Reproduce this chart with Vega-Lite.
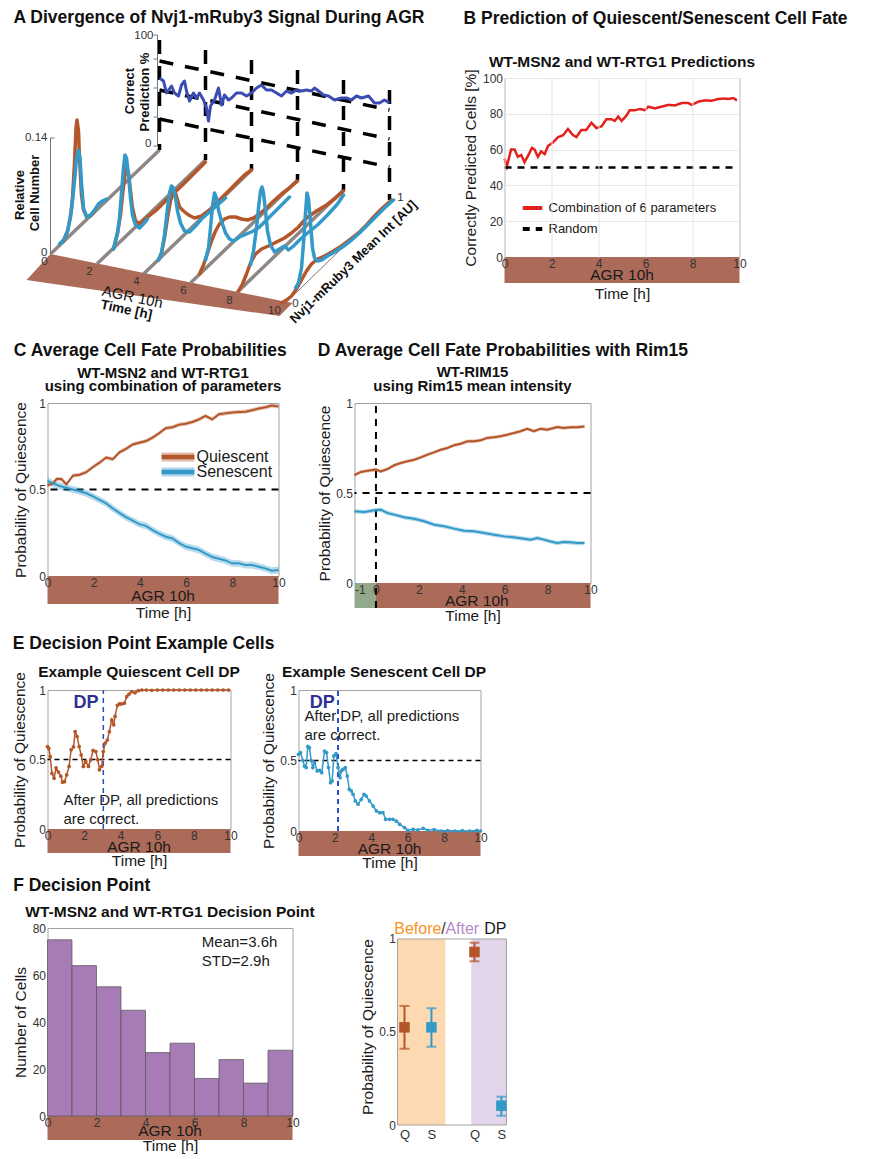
{
"$schema": "https://vega.github.io/schema/vega-lite/v6.json",
"padding": {"left": 11.5, "top": 8, "right": 2, "bottom": 2},
"background": "white",
"spacing": 0,
"resolve": {"scale": {"color": "independent", "fill": "independent", "strokeDash": "independent"}},
"config": {
 "font": "Liberation Sans",
 "view": {"stroke": "#a3a3a3", "strokeWidth": 1},
 "axis": {"domain": false, "ticks": false, "grid": false, "labelFontSize": 12, "labelColor": "#333333", "titleFontSize": 15.5, "titleFontWeight": "normal", "titleColor": "#1a1a1a", "labelFont": "Liberation Sans", "titleFont": "Liberation Sans", "labelOverlap": false},
 "title": {"fontSize": 17.5, "fontWeight": "bold", "anchor": "start", "color": "#111111", "font": "Liberation Sans"},
 "legend": {"labelFont": "Liberation Sans"},
 "text": {"font": "Liberation Sans"}
},
"datasets": {
 "agr": [{"start": 0, "end": 10, "label": "AGR 10h"}],
 "preagr": [{"start": -1, "end": 0}],
 "a_floor": [{"u":25,"top":277,"bot":277},{"u":49,"top":251,"bot":280.4},{"u":278,"top":297.4,"bot":313},{"u":291,"top":300,"bot":300}],
 "a_base": [
  {"c":"g0","u":49,"v":251},{"c":"g0","u":158,"v":147},
  {"c":"g1","u":95.6,"v":260.8},{"c":"g1","u":204,"v":157},
  {"c":"g2","u":142,"v":271},{"c":"g2","u":250,"v":167},
  {"c":"g3","u":189,"v":280},{"c":"g3","u":296,"v":177},
  {"c":"g4","u":235,"v":290},{"c":"g4","u":342,"v":187}],
 "a_axis": [
  {"c":"ax1","u":49,"v":251},{"c":"ax1","u":49,"v":135},
  {"c":"tk1","u":49,"v":135},{"c":"tk1","u":53,"v":135},
  {"c":"ax2","u":156,"v":143},{"c":"ax2","u":156,"v":32},
  {"c":"t100","u":152,"v":32},{"c":"t100","u":156,"v":32},
  {"c":"t75","u":152,"v":56},{"c":"t75","u":156,"v":56},
  {"c":"t50","u":152,"v":85},{"c":"t50","u":156,"v":85},
  {"c":"t25","u":152,"v":114},{"c":"t25","u":156,"v":114},
  {"c":"t0","u":152,"v":143},{"c":"t0","u":156,"v":143},
  {"c":"ax3","u":283,"v":301},{"c":"ax3","u":390,"v":197}],
 "a_grid": [
  {"c":"V0","u":158,"v":37},{"c":"V0","u":158,"v":147},
  {"c":"V1","u":204,"v":47},{"c":"V1","u":204,"v":157},
  {"c":"V2","u":250,"v":57},{"c":"V2","u":250,"v":167},
  {"c":"V3","u":296,"v":67},{"c":"V3","u":296,"v":177},
  {"c":"V4","u":342,"v":77},{"c":"V4","u":342,"v":187},
  {"c":"V5","u":388,"v":87},{"c":"V5","u":388,"v":197},
  {"c":"H75","u":158,"v":58},{"c":"H75","u":388,"v":107},
  {"c":"H50","u":158,"v":87},{"c":"H50","u":388,"v":136},
  {"c":"H25","u":158,"v":116},{"c":"H25","u":388,"v":164}],
 "a_curves": [
  {"c":"o0","s":"Q","u":62,"v":238},{"c":"o0","s":"Q","u":66,"v":228},{"c":"o0","s":"Q","u":69,"v":214},{"c":"o0","s":"Q","u":71,"v":195},{"c":"o0","s":"Q","u":73,"v":160},{"c":"o0","s":"Q","u":74.5,"v":125},{"c":"o0","s":"Q","u":75.5,"v":117},{"c":"o0","s":"Q","u":77,"v":128},{"c":"o0","s":"Q","u":78,"v":155},{"c":"o0","s":"Q","u":80,"v":192},{"c":"o0","s":"Q","u":82,"v":207},{"c":"o0","s":"Q","u":85,"v":213},{"c":"o0","s":"Q","u":89,"v":213},{"c":"o0","s":"Q","u":93,"v":208},
  {"c":"b0","s":"S","u":58,"v":241},{"c":"b0","s":"S","u":62,"v":237},{"c":"b0","s":"S","u":66,"v":229},{"c":"b0","s":"S","u":70,"v":207},{"c":"b0","s":"S","u":73,"v":178},{"c":"b0","s":"S","u":75,"v":155},{"c":"b0","s":"S","u":77,"v":147},{"c":"b0","s":"S","u":78.5,"v":155},{"c":"b0","s":"S","u":80,"v":180},{"c":"b0","s":"S","u":82,"v":205},{"c":"b0","s":"S","u":85,"v":214},{"c":"b0","s":"S","u":89,"v":212},{"c":"b0","s":"S","u":93,"v":207},{"c":"b0","s":"S","u":97,"v":201},{"c":"b0","s":"S","u":101,"v":198},{"c":"b0","s":"S","u":105,"v":196},
  {"c":"o1","s":"Q","u":112,"v":246},{"c":"o1","s":"Q","u":116,"v":230},{"c":"o1","s":"Q","u":119,"v":212},{"c":"o1","s":"Q","u":121,"v":192},{"c":"o1","s":"Q","u":123,"v":175},{"c":"o1","s":"Q","u":125,"v":165},{"c":"o1","s":"Q","u":127,"v":170},{"c":"o1","s":"Q","u":129,"v":188},{"c":"o1","s":"Q","u":131,"v":205},{"c":"o1","s":"Q","u":134,"v":218},{"c":"o1","s":"Q","u":138,"v":221},{"c":"o1","s":"Q","u":145,"v":215},{"c":"o1","s":"Q","u":155,"v":207},{"c":"o1","s":"Q","u":165,"v":197},{"c":"o1","s":"Q","u":180,"v":183},{"c":"o1","s":"Q","u":195,"v":168},{"c":"o1","s":"Q","u":204,"v":159},
  {"c":"b1","s":"S","u":112,"v":246},{"c":"b1","s":"S","u":116,"v":230},{"c":"b1","s":"S","u":118,"v":215},{"c":"b1","s":"S","u":120,"v":190},{"c":"b1","s":"S","u":122,"v":165},{"c":"b1","s":"S","u":123.5,"v":152},{"c":"b1","s":"S","u":125,"v":155},{"c":"b1","s":"S","u":127,"v":172},{"c":"b1","s":"S","u":129,"v":195},{"c":"b1","s":"S","u":131,"v":212},{"c":"b1","s":"S","u":134,"v":222},{"c":"b1","s":"S","u":138,"v":225},{"c":"b1","s":"S","u":142,"v":221},{"c":"b1","s":"S","u":146,"v":216},
  {"c":"o2","s":"Q","u":157,"v":257},{"c":"o2","s":"Q","u":160,"v":250},{"c":"o2","s":"Q","u":163,"v":235},{"c":"o2","s":"Q","u":166,"v":215},{"c":"o2","s":"Q","u":169,"v":198},{"c":"o2","s":"Q","u":172,"v":189},{"c":"o2","s":"Q","u":174,"v":190},{"c":"o2","s":"Q","u":176,"v":197},{"c":"o2","s":"Q","u":178,"v":204},{"c":"o2","s":"Q","u":182,"v":208},{"c":"o2","s":"Q","u":187,"v":212},{"c":"o2","s":"Q","u":193,"v":215},{"c":"o2","s":"Q","u":200,"v":213},{"c":"o2","s":"Q","u":208,"v":207},{"c":"o2","s":"Q","u":216,"v":199},{"c":"o2","s":"Q","u":225,"v":190},{"c":"o2","s":"Q","u":235,"v":180},{"c":"o2","s":"Q","u":243,"v":172},{"c":"o2","s":"Q","u":250,"v":167},
  {"c":"b2","s":"S","u":157,"v":257},{"c":"b2","s":"S","u":160,"v":250},{"c":"b2","s":"S","u":163,"v":232},{"c":"b2","s":"S","u":166,"v":205},{"c":"b2","s":"S","u":168,"v":190},{"c":"b2","s":"S","u":170,"v":183},{"c":"b2","s":"S","u":172,"v":185},{"c":"b2","s":"S","u":174,"v":195},{"c":"b2","s":"S","u":176,"v":208},{"c":"b2","s":"S","u":179,"v":220},{"c":"b2","s":"S","u":183,"v":228},{"c":"b2","s":"S","u":188,"v":229},{"c":"b2","s":"S","u":193,"v":224},{"c":"b2","s":"S","u":200,"v":216},{"c":"b2","s":"S","u":208,"v":209},{"c":"b2","s":"S","u":216,"v":202},{"c":"b2","s":"S","u":224,"v":195},
  {"c":"o3","s":"Q","u":198,"v":271},{"c":"o3","s":"Q","u":202,"v":262},{"c":"o3","s":"Q","u":206,"v":250},{"c":"o3","s":"Q","u":210,"v":238},{"c":"o3","s":"Q","u":214,"v":228},{"c":"o3","s":"Q","u":218,"v":221},{"c":"o3","s":"Q","u":223,"v":216},{"c":"o3","s":"Q","u":228,"v":214},{"c":"o3","s":"Q","u":234,"v":214},{"c":"o3","s":"Q","u":240,"v":216},{"c":"o3","s":"Q","u":246,"v":217},{"c":"o3","s":"Q","u":252,"v":215},{"c":"o3","s":"Q","u":258,"v":211},{"c":"o3","s":"Q","u":265,"v":205},{"c":"o3","s":"Q","u":272,"v":198},{"c":"o3","s":"Q","u":280,"v":191},{"c":"o3","s":"Q","u":288,"v":185},{"c":"o3","s":"Q","u":296,"v":178},
  {"c":"b3","s":"S","u":204,"v":257},{"c":"b3","s":"S","u":207,"v":245},{"c":"b3","s":"S","u":209,"v":225},{"c":"b3","s":"S","u":211,"v":203},{"c":"b3","s":"S","u":213,"v":190},{"c":"b3","s":"S","u":215,"v":195},{"c":"b3","s":"S","u":217,"v":207},{"c":"b3","s":"S","u":220,"v":218},{"c":"b3","s":"S","u":224,"v":230},{"c":"b3","s":"S","u":228,"v":236},{"c":"b3","s":"S","u":232,"v":238},{"c":"b3","s":"S","u":238,"v":234},{"c":"b3","s":"S","u":245,"v":231},{"c":"b3","s":"S","u":252,"v":228},{"c":"b3","s":"S","u":258,"v":224},{"c":"b3","s":"S","u":265,"v":217},{"c":"b3","s":"S","u":272,"v":210},{"c":"b3","s":"S","u":280,"v":202},{"c":"b3","s":"S","u":288,"v":194},
  {"c":"o4","s":"Q","u":237,"v":288},{"c":"o4","s":"Q","u":241,"v":281},{"c":"o4","s":"Q","u":245,"v":271},{"c":"o4","s":"Q","u":249,"v":260},{"c":"o4","s":"Q","u":254,"v":251},{"c":"o4","s":"Q","u":260,"v":246},{"c":"o4","s":"Q","u":267,"v":243},{"c":"o4","s":"Q","u":275,"v":239},{"c":"o4","s":"Q","u":283,"v":235},{"c":"o4","s":"Q","u":290,"v":230},{"c":"o4","s":"Q","u":297,"v":224},{"c":"o4","s":"Q","u":305,"v":215},{"c":"o4","s":"Q","u":315,"v":208},{"c":"o4","s":"Q","u":325,"v":202},{"c":"o4","s":"Q","u":334,"v":195},{"c":"o4","s":"Q","u":342,"v":188},
  {"c":"b4","s":"S","u":249,"v":262},{"c":"b4","s":"S","u":252,"v":248},{"c":"b4","s":"S","u":255,"v":225},{"c":"b4","s":"S","u":257,"v":205},{"c":"b4","s":"S","u":259,"v":188},{"c":"b4","s":"S","u":260.5,"v":184},{"c":"b4","s":"S","u":262,"v":190},{"c":"b4","s":"S","u":264,"v":208},{"c":"b4","s":"S","u":266,"v":228},{"c":"b4","s":"S","u":269,"v":242},{"c":"b4","s":"S","u":273,"v":249},{"c":"b4","s":"S","u":278,"v":246},{"c":"b4","s":"S","u":283,"v":243},{"c":"b4","s":"S","u":287,"v":247},{"c":"b4","s":"S","u":292,"v":243},{"c":"b4","s":"S","u":298,"v":237},{"c":"b4","s":"S","u":306,"v":230},{"c":"b4","s":"S","u":316,"v":222},{"c":"b4","s":"S","u":326,"v":212},{"c":"b4","s":"S","u":336,"v":201},{"c":"b4","s":"S","u":342,"v":192},
  {"c":"o5","s":"Q","u":280,"v":300},{"c":"o5","s":"Q","u":285,"v":297},{"c":"o5","s":"Q","u":290,"v":293},{"c":"o5","s":"Q","u":295,"v":286},{"c":"o5","s":"Q","u":300,"v":277},{"c":"o5","s":"Q","u":305,"v":268},{"c":"o5","s":"Q","u":310,"v":261},{"c":"o5","s":"Q","u":316,"v":256},{"c":"o5","s":"Q","u":323,"v":253},{"c":"o5","s":"Q","u":332,"v":248},{"c":"o5","s":"Q","u":340,"v":243},{"c":"o5","s":"Q","u":348,"v":237},{"c":"o5","s":"Q","u":357,"v":230},{"c":"o5","s":"Q","u":365,"v":222},{"c":"o5","s":"Q","u":373,"v":213},{"c":"o5","s":"Q","u":381,"v":205},{"c":"o5","s":"Q","u":390,"v":197},
  {"c":"b5","s":"S","u":294,"v":285},{"c":"b5","s":"S","u":297,"v":280},{"c":"b5","s":"S","u":300,"v":265},{"c":"b5","s":"S","u":302,"v":240},{"c":"b5","s":"S","u":304,"v":210},{"c":"b5","s":"S","u":305.5,"v":190},{"c":"b5","s":"S","u":307,"v":196},{"c":"b5","s":"S","u":309,"v":220},{"c":"b5","s":"S","u":311,"v":245},{"c":"b5","s":"S","u":313,"v":255},{"c":"b5","s":"S","u":316,"v":258},{"c":"b5","s":"S","u":320,"v":257},{"c":"b5","s":"S","u":326,"v":253},{"c":"b5","s":"S","u":333,"v":249},{"c":"b5","s":"S","u":341,"v":244},{"c":"b5","s":"S","u":350,"v":237},{"c":"b5","s":"S","u":358,"v":230},{"c":"b5","s":"S","u":366,"v":222},{"c":"b5","s":"S","u":374,"v":214},{"c":"b5","s":"S","u":383,"v":205},{"c":"b5","s":"S","u":392,"v":197}],
 "a_pred": [{"u":158,"v":75},{"u":162,"v":78},{"u":165,"v":90},{"u":170,"v":83},{"u":173,"v":90},{"u":177,"v":93},{"u":180,"v":82},{"u":183,"v":78},{"u":185,"v":88},{"u":188,"v":98},{"u":192,"v":90},{"u":195,"v":95},{"u":198,"v":90},{"u":202,"v":97},{"u":205,"v":105},{"u":207,"v":118},{"u":209,"v":103},{"u":213,"v":97},{"u":217,"v":85},{"u":220,"v":102},{"u":223,"v":92},{"u":227,"v":97},{"u":230,"v":95},{"u":235,"v":90},{"u":240,"v":90},{"u":245,"v":93},{"u":250,"v":90},{"u":255,"v":85},{"u":260,"v":82},{"u":265,"v":87},{"u":270,"v":87},{"u":275,"v":90},{"u":280,"v":93},{"u":285,"v":88},{"u":290,"v":90},{"u":295,"v":87},{"u":300,"v":88},{"u":305,"v":87},{"u":310,"v":88},{"u":313,"v":85},{"u":317,"v":88},{"u":322,"v":92},{"u":327,"v":93},{"u":333,"v":97},{"u":340,"v":95},{"u":345,"v":95},{"u":350,"v":97},{"u":355,"v":93},{"u":360,"v":95},{"u":367,"v":93},{"u":373,"v":100},{"u":378,"v":100},{"u":383,"v":97},{"u":388,"v":100}],
 "a_ticks": [{"lab":"0","u":43,"v":259},{"lab":"2","u":88,"v":269},{"lab":"4","u":135,"v":279},{"lab":"6","u":182,"v":288},{"lab":"8","u":228,"v":298},{"lab":"10","u":273,"v":308},{"lab":"0","u":294,"v":301},{"lab":"1","u":399,"v":195}],
 "a_ticks_r": [{"lab":"0.14","u":46,"v":135},{"lab":"0","u":46,"v":250},{"lab":"100","u":152,"v":33},{"lab":"0","u":150,"v":141}],
 "a_vlabels": [{"lab":"Relative","u":18,"v":192},{"lab":"Cell Number","u":33,"v":190},{"lab":"Correct","u":128,"v":88},{"lab":"Prediction %","u":143,"v":89}],
 "b_lines": [
  {"series":"Combination of 6 parameters","t":0,"pct":55},{"series":"Combination of 6 parameters","t":0.1,"pct":50.6},{"series":"Combination of 6 parameters","t":0.28,"pct":60},{"series":"Combination of 6 parameters","t":0.43,"pct":60},{"series":"Combination of 6 parameters","t":0.57,"pct":56},{"series":"Combination of 6 parameters","t":0.71,"pct":57},{"series":"Combination of 6 parameters","t":0.85,"pct":53},{"series":"Combination of 6 parameters","t":1.02,"pct":57},{"series":"Combination of 6 parameters","t":1.17,"pct":61},{"series":"Combination of 6 parameters","t":1.28,"pct":60},{"series":"Combination of 6 parameters","t":1.42,"pct":56},{"series":"Combination of 6 parameters","t":1.56,"pct":59},{"series":"Combination of 6 parameters","t":1.71,"pct":57.5},{"series":"Combination of 6 parameters","t":1.85,"pct":62},{"series":"Combination of 6 parameters","t":2.06,"pct":64},{"series":"Combination of 6 parameters","t":2.28,"pct":67},{"series":"Combination of 6 parameters","t":2.49,"pct":68},{"series":"Combination of 6 parameters","t":2.7,"pct":71.5},{"series":"Combination of 6 parameters","t":2.92,"pct":68},{"series":"Combination of 6 parameters","t":3.06,"pct":67},{"series":"Combination of 6 parameters","t":3.27,"pct":71},{"series":"Combination of 6 parameters","t":3.48,"pct":71},{"series":"Combination of 6 parameters","t":3.7,"pct":75},{"series":"Combination of 6 parameters","t":3.91,"pct":72},{"series":"Combination of 6 parameters","t":4.13,"pct":73},{"series":"Combination of 6 parameters","t":4.34,"pct":77},{"series":"Combination of 6 parameters","t":4.55,"pct":77},{"series":"Combination of 6 parameters","t":4.69,"pct":76},{"series":"Combination of 6 parameters","t":4.84,"pct":78.5},{"series":"Combination of 6 parameters","t":4.98,"pct":76},{"series":"Combination of 6 parameters","t":5.19,"pct":79},{"series":"Combination of 6 parameters","t":5.33,"pct":82},{"series":"Combination of 6 parameters","t":5.55,"pct":82},{"series":"Combination of 6 parameters","t":5.76,"pct":82.7},{"series":"Combination of 6 parameters","t":5.97,"pct":82},{"series":"Combination of 6 parameters","t":6.12,"pct":84},{"series":"Combination of 6 parameters","t":6.4,"pct":83},{"series":"Combination of 6 parameters","t":6.69,"pct":84},{"series":"Combination of 6 parameters","t":6.97,"pct":85},{"series":"Combination of 6 parameters","t":7.25,"pct":84.7},{"series":"Combination of 6 parameters","t":7.54,"pct":86},{"series":"Combination of 6 parameters","t":7.82,"pct":86},{"series":"Combination of 6 parameters","t":7.97,"pct":85},{"series":"Combination of 6 parameters","t":8.25,"pct":86.8},{"series":"Combination of 6 parameters","t":8.53,"pct":87.5},{"series":"Combination of 6 parameters","t":8.82,"pct":87.3},{"series":"Combination of 6 parameters","t":9.1,"pct":88.3},{"series":"Combination of 6 parameters","t":9.32,"pct":88.5},{"series":"Combination of 6 parameters","t":9.53,"pct":88.3},{"series":"Combination of 6 parameters","t":9.74,"pct":88.8},{"series":"Combination of 6 parameters","t":9.89,"pct":87.5},
  {"series":"Random","t":0,"pct":50},{"series":"Random","t":9.75,"pct":50}],
 "c_lines": [
  {"fate":"Quiescent","t":0,"p":0.525,"lo":0.513,"hi":0.537},{"fate":"Quiescent","t":0.24,"p":0.535,"lo":0.523,"hi":0.547},{"fate":"Quiescent","t":0.39,"p":0.56,"lo":0.548,"hi":0.572},{"fate":"Quiescent","t":0.6,"p":0.56,"lo":0.548,"hi":0.572},{"fate":"Quiescent","t":0.82,"p":0.53,"lo":0.518,"hi":0.542},{"fate":"Quiescent","t":1.1,"p":0.58,"lo":0.568,"hi":0.592},{"fate":"Quiescent","t":1.39,"p":0.585,"lo":0.573,"hi":0.597},{"fate":"Quiescent","t":1.68,"p":0.6,"lo":0.588,"hi":0.612},{"fate":"Quiescent","t":1.97,"p":0.63,"lo":0.618,"hi":0.642},{"fate":"Quiescent","t":2.25,"p":0.655,"lo":0.643,"hi":0.667},{"fate":"Quiescent","t":2.54,"p":0.685,"lo":0.673,"hi":0.697},{"fate":"Quiescent","t":2.83,"p":0.675,"lo":0.663,"hi":0.687},{"fate":"Quiescent","t":3.11,"p":0.715,"lo":0.703,"hi":0.727},{"fate":"Quiescent","t":3.4,"p":0.735,"lo":0.723,"hi":0.747},{"fate":"Quiescent","t":3.69,"p":0.76,"lo":0.748,"hi":0.772},{"fate":"Quiescent","t":3.97,"p":0.77,"lo":0.758,"hi":0.782},{"fate":"Quiescent","t":4.26,"p":0.78,"lo":0.768,"hi":0.792},{"fate":"Quiescent","t":4.55,"p":0.8,"lo":0.788,"hi":0.812},{"fate":"Quiescent","t":4.83,"p":0.825,"lo":0.813,"hi":0.837},{"fate":"Quiescent","t":5.12,"p":0.855,"lo":0.843,"hi":0.867},{"fate":"Quiescent","t":5.41,"p":0.86,"lo":0.848,"hi":0.872},{"fate":"Quiescent","t":5.7,"p":0.875,"lo":0.863,"hi":0.887},{"fate":"Quiescent","t":5.98,"p":0.88,"lo":0.868,"hi":0.892},{"fate":"Quiescent","t":6.27,"p":0.89,"lo":0.878,"hi":0.902},{"fate":"Quiescent","t":6.56,"p":0.905,"lo":0.893,"hi":0.917},{"fate":"Quiescent","t":6.84,"p":0.925,"lo":0.913,"hi":0.937},{"fate":"Quiescent","t":7.13,"p":0.905,"lo":0.893,"hi":0.917},{"fate":"Quiescent","t":7.42,"p":0.935,"lo":0.923,"hi":0.947},{"fate":"Quiescent","t":7.7,"p":0.94,"lo":0.928,"hi":0.952},{"fate":"Quiescent","t":7.99,"p":0.945,"lo":0.933,"hi":0.957},{"fate":"Quiescent","t":8.28,"p":0.948,"lo":0.936,"hi":0.96},{"fate":"Quiescent","t":8.57,"p":0.95,"lo":0.938,"hi":0.962},{"fate":"Quiescent","t":8.85,"p":0.958,"lo":0.946,"hi":0.97},{"fate":"Quiescent","t":9.14,"p":0.968,"lo":0.956,"hi":0.98},{"fate":"Quiescent","t":9.43,"p":0.975,"lo":0.963,"hi":0.987},{"fate":"Quiescent","t":9.71,"p":0.985,"lo":0.973,"hi":0.997},{"fate":"Quiescent","t":10,"p":0.98,"lo":0.968,"hi":0.992},
  {"fate":"Senescent","t":0,"p":0.55,"lo":0.53,"hi":0.57},{"fate":"Senescent","t":0.24,"p":0.535,"lo":0.515,"hi":0.555},{"fate":"Senescent","t":0.53,"p":0.52,"lo":0.5,"hi":0.54},{"fate":"Senescent","t":0.82,"p":0.51,"lo":0.49,"hi":0.53},{"fate":"Senescent","t":1.1,"p":0.5,"lo":0.48,"hi":0.52},{"fate":"Senescent","t":1.39,"p":0.49,"lo":0.47,"hi":0.51},{"fate":"Senescent","t":1.68,"p":0.478,"lo":0.458,"hi":0.498},{"fate":"Senescent","t":1.97,"p":0.46,"lo":0.44,"hi":0.48},{"fate":"Senescent","t":2.25,"p":0.44,"lo":0.42,"hi":0.46},{"fate":"Senescent","t":2.54,"p":0.42,"lo":0.4,"hi":0.44},{"fate":"Senescent","t":2.83,"p":0.39,"lo":0.37,"hi":0.41},{"fate":"Senescent","t":3.11,"p":0.365,"lo":0.345,"hi":0.385},{"fate":"Senescent","t":3.4,"p":0.34,"lo":0.32,"hi":0.36},{"fate":"Senescent","t":3.69,"p":0.32,"lo":0.3,"hi":0.34},{"fate":"Senescent","t":3.97,"p":0.3,"lo":0.28,"hi":0.32},{"fate":"Senescent","t":4.26,"p":0.29,"lo":0.27,"hi":0.31},{"fate":"Senescent","t":4.55,"p":0.265,"lo":0.245,"hi":0.285},{"fate":"Senescent","t":4.83,"p":0.245,"lo":0.225,"hi":0.265},{"fate":"Senescent","t":5.12,"p":0.227,"lo":0.207,"hi":0.247},{"fate":"Senescent","t":5.41,"p":0.217,"lo":0.197,"hi":0.237},{"fate":"Senescent","t":5.7,"p":0.19,"lo":0.17,"hi":0.21},{"fate":"Senescent","t":5.98,"p":0.17,"lo":0.15,"hi":0.19},{"fate":"Senescent","t":6.27,"p":0.16,"lo":0.14,"hi":0.18},{"fate":"Senescent","t":6.56,"p":0.15,"lo":0.13,"hi":0.17},{"fate":"Senescent","t":6.84,"p":0.13,"lo":0.11,"hi":0.15},{"fate":"Senescent","t":7.13,"p":0.11,"lo":0.09,"hi":0.13},{"fate":"Senescent","t":7.42,"p":0.1,"lo":0.08,"hi":0.12},{"fate":"Senescent","t":7.7,"p":0.09,"lo":0.07,"hi":0.11},{"fate":"Senescent","t":7.99,"p":0.073,"lo":0.053,"hi":0.093},{"fate":"Senescent","t":8.28,"p":0.073,"lo":0.053,"hi":0.093},{"fate":"Senescent","t":8.57,"p":0.063,"lo":0.043,"hi":0.083},{"fate":"Senescent","t":8.85,"p":0.063,"lo":0.043,"hi":0.083},{"fate":"Senescent","t":9.14,"p":0.054,"lo":0.034,"hi":0.074},{"fate":"Senescent","t":9.43,"p":0.044,"lo":0.024,"hi":0.064},{"fate":"Senescent","t":9.71,"p":0.03,"lo":0.01,"hi":0.05},{"fate":"Senescent","t":10,"p":0.035,"lo":0.015,"hi":0.055}],
 "d_lines": [
  {"fate":"Quiescent","t":-1,"p":0.6,"lo":0.59,"hi":0.61},{"fate":"Quiescent","t":-0.7,"p":0.617,"lo":0.607,"hi":0.627},{"fate":"Quiescent","t":-0.39,"p":0.624,"lo":0.614,"hi":0.634},{"fate":"Quiescent","t":0,"p":0.63,"lo":0.62,"hi":0.64},{"fate":"Quiescent","t":0.23,"p":0.62,"lo":0.61,"hi":0.63},{"fate":"Quiescent","t":0.54,"p":0.633,"lo":0.623,"hi":0.643},{"fate":"Quiescent","t":0.85,"p":0.654,"lo":0.644,"hi":0.664},{"fate":"Quiescent","t":1.16,"p":0.667,"lo":0.657,"hi":0.677},{"fate":"Quiescent","t":1.47,"p":0.676,"lo":0.666,"hi":0.686},{"fate":"Quiescent","t":1.78,"p":0.685,"lo":0.675,"hi":0.695},{"fate":"Quiescent","t":2.09,"p":0.698,"lo":0.688,"hi":0.708},{"fate":"Quiescent","t":2.4,"p":0.713,"lo":0.703,"hi":0.723},{"fate":"Quiescent","t":2.71,"p":0.726,"lo":0.716,"hi":0.736},{"fate":"Quiescent","t":3.02,"p":0.74,"lo":0.73,"hi":0.75},{"fate":"Quiescent","t":3.33,"p":0.75,"lo":0.74,"hi":0.76},{"fate":"Quiescent","t":3.64,"p":0.765,"lo":0.755,"hi":0.775},{"fate":"Quiescent","t":3.95,"p":0.774,"lo":0.764,"hi":0.784},{"fate":"Quiescent","t":4.26,"p":0.787,"lo":0.777,"hi":0.797},{"fate":"Quiescent","t":4.57,"p":0.787,"lo":0.777,"hi":0.797},{"fate":"Quiescent","t":4.88,"p":0.793,"lo":0.783,"hi":0.803},{"fate":"Quiescent","t":5.19,"p":0.806,"lo":0.796,"hi":0.816},{"fate":"Quiescent","t":5.5,"p":0.81,"lo":0.8,"hi":0.82},{"fate":"Quiescent","t":5.81,"p":0.815,"lo":0.805,"hi":0.825},{"fate":"Quiescent","t":6.12,"p":0.824,"lo":0.814,"hi":0.834},{"fate":"Quiescent","t":6.43,"p":0.833,"lo":0.823,"hi":0.843},{"fate":"Quiescent","t":6.74,"p":0.843,"lo":0.833,"hi":0.853},{"fate":"Quiescent","t":7.05,"p":0.857,"lo":0.847,"hi":0.867},{"fate":"Quiescent","t":7.36,"p":0.843,"lo":0.833,"hi":0.853},{"fate":"Quiescent","t":7.67,"p":0.857,"lo":0.847,"hi":0.867},{"fate":"Quiescent","t":7.98,"p":0.852,"lo":0.842,"hi":0.862},{"fate":"Quiescent","t":8.29,"p":0.861,"lo":0.851,"hi":0.871},{"fate":"Quiescent","t":8.45,"p":0.866,"lo":0.856,"hi":0.876},{"fate":"Quiescent","t":8.76,"p":0.861,"lo":0.851,"hi":0.871},{"fate":"Quiescent","t":9.07,"p":0.865,"lo":0.855,"hi":0.875},{"fate":"Quiescent","t":9.38,"p":0.865,"lo":0.855,"hi":0.875},{"fate":"Quiescent","t":9.72,"p":0.87,"lo":0.86,"hi":0.88},
  {"fate":"Senescent","t":-1,"p":0.398,"lo":0.386,"hi":0.41},{"fate":"Senescent","t":-0.54,"p":0.394,"lo":0.382,"hi":0.406},{"fate":"Senescent","t":0,"p":0.405,"lo":0.393,"hi":0.417},{"fate":"Senescent","t":0.23,"p":0.407,"lo":0.395,"hi":0.419},{"fate":"Senescent","t":0.54,"p":0.389,"lo":0.377,"hi":0.401},{"fate":"Senescent","t":0.85,"p":0.38,"lo":0.368,"hi":0.392},{"fate":"Senescent","t":1.32,"p":0.365,"lo":0.353,"hi":0.377},{"fate":"Senescent","t":1.78,"p":0.357,"lo":0.345,"hi":0.369},{"fate":"Senescent","t":2.25,"p":0.343,"lo":0.331,"hi":0.355},{"fate":"Senescent","t":2.71,"p":0.324,"lo":0.312,"hi":0.336},{"fate":"Senescent","t":3.18,"p":0.315,"lo":0.303,"hi":0.327},{"fate":"Senescent","t":3.64,"p":0.302,"lo":0.29,"hi":0.314},{"fate":"Senescent","t":4.11,"p":0.29,"lo":0.278,"hi":0.302},{"fate":"Senescent","t":4.57,"p":0.287,"lo":0.275,"hi":0.299},{"fate":"Senescent","t":5.04,"p":0.278,"lo":0.266,"hi":0.29},{"fate":"Senescent","t":5.5,"p":0.268,"lo":0.256,"hi":0.28},{"fate":"Senescent","t":5.97,"p":0.259,"lo":0.247,"hi":0.271},{"fate":"Senescent","t":6.43,"p":0.254,"lo":0.242,"hi":0.266},{"fate":"Senescent","t":6.9,"p":0.246,"lo":0.234,"hi":0.258},{"fate":"Senescent","t":7.21,"p":0.241,"lo":0.229,"hi":0.253},{"fate":"Senescent","t":7.52,"p":0.25,"lo":0.238,"hi":0.262},{"fate":"Senescent","t":7.83,"p":0.241,"lo":0.229,"hi":0.253},{"fate":"Senescent","t":8.14,"p":0.231,"lo":0.219,"hi":0.243},{"fate":"Senescent","t":8.45,"p":0.222,"lo":0.21,"hi":0.234},{"fate":"Senescent","t":8.76,"p":0.228,"lo":0.216,"hi":0.24},{"fate":"Senescent","t":9.07,"p":0.226,"lo":0.214,"hi":0.238},{"fate":"Senescent","t":9.38,"p":0.222,"lo":0.21,"hi":0.234},{"fate":"Senescent","t":9.72,"p":0.222,"lo":0.21,"hi":0.234}],
 "e_q": [{"t":0,"p":0.593},{"t":0.07,"p":0.58},{"t":0.15,"p":0.52},{"t":0.24,"p":0.4},{"t":0.36,"p":0.366},{"t":0.47,"p":0.44},{"t":0.6,"p":0.41},{"t":0.73,"p":0.38},{"t":0.82,"p":0.337},{"t":0.93,"p":0.34},{"t":1.05,"p":0.39},{"t":1.18,"p":0.45},{"t":1.29,"p":0.57},{"t":1.42,"p":0.59},{"t":1.51,"p":0.7},{"t":1.62,"p":0.665},{"t":1.73,"p":0.593},{"t":1.84,"p":0.533},{"t":1.96,"p":0.45},{"t":2.09,"p":0.486},{"t":2.24,"p":0.45},{"t":2.36,"p":0.498},{"t":2.49,"p":0.565},{"t":2.64,"p":0.557},{"t":2.75,"p":0.498},{"t":2.84,"p":0.426},{"t":2.96,"p":0.45},{"t":3.05,"p":0.557},{"t":3.15,"p":0.617},{"t":3.27,"p":0.64},{"t":3.38,"p":0.7},{"t":3.51,"p":0.785},{"t":3.62,"p":0.75},{"t":3.69,"p":0.81},{"t":3.82,"p":0.89},{"t":3.93,"p":0.9},{"t":4.05,"p":0.9},{"t":4.2,"p":0.905},{"t":4.33,"p":0.952},{"t":4.45,"p":0.97},{"t":4.6,"p":0.988},{"t":4.78,"p":0.98},{"t":4.96,"p":0.995},{"t":5.15,"p":1},{"t":5.4,"p":1},{"t":5.7,"p":0.998},{"t":6.0,"p":1},{"t":6.3,"p":1},{"t":6.6,"p":1},{"t":6.9,"p":1},{"t":7.2,"p":1},{"t":7.5,"p":1},{"t":7.8,"p":1},{"t":8.1,"p":1},{"t":8.4,"p":1},{"t":8.7,"p":1},{"t":9.0,"p":1},{"t":9.3,"p":1},{"t":9.6,"p":1},{"t":9.9,"p":1}],
 "e_s": [{"t":0,"p":0.544},{"t":0.11,"p":0.555},{"t":0.24,"p":0.5},{"t":0.33,"p":0.46},{"t":0.42,"p":0.45},{"t":0.51,"p":0.6},{"t":0.6,"p":0.59},{"t":0.7,"p":0.5},{"t":0.79,"p":0.45},{"t":0.88,"p":0.485},{"t":1.03,"p":0.426},{"t":1.16,"p":0.43},{"t":1.28,"p":0.414},{"t":1.43,"p":0.567},{"t":1.54,"p":0.556},{"t":1.65,"p":0.45},{"t":1.76,"p":0.343},{"t":1.85,"p":0.355},{"t":1.94,"p":0.532},{"t":2.06,"p":0.548},{"t":2.17,"p":0.45},{"t":2.28,"p":0.378},{"t":2.35,"p":0.426},{"t":2.44,"p":0.437},{"t":2.57,"p":0.45},{"t":2.68,"p":0.39},{"t":2.79,"p":0.296},{"t":2.9,"p":0.284},{"t":3.0,"p":0.26},{"t":3.12,"p":0.213},{"t":3.27,"p":0.19},{"t":3.45,"p":0.225},{"t":3.6,"p":0.26},{"t":3.72,"p":0.248},{"t":3.9,"p":0.213},{"t":4.1,"p":0.177},{"t":4.28,"p":0.142},{"t":4.46,"p":0.13},{"t":4.64,"p":0.13},{"t":4.79,"p":0.083},{"t":5.0,"p":0.083},{"t":5.19,"p":0.083},{"t":5.38,"p":0.07},{"t":5.56,"p":0.047},{"t":5.83,"p":0.024},{"t":6.0,"p":0.005},{"t":6.3,"p":0.012},{"t":6.56,"p":0.008},{"t":6.85,"p":0.019},{"t":7.1,"p":0.005},{"t":7.45,"p":0.01},{"t":7.85,"p":0},{"t":8.2,"p":0.003},{"t":8.6,"p":0},{"t":9.0,"p":0.002},{"t":9.4,"p":0},{"t":9.8,"p":0.004},{"t":10,"p":0}],
 "f_hist": [{"start":0,"end":1,"cells":75},{"start":1,"end":2,"cells":64},{"start":2,"end":3,"cells":55},{"start":3,"end":4,"cells":45},{"start":4,"end":5,"cells":27},{"start":5,"end":6,"cells":31},{"start":6,"end":7,"cells":16},{"start":7,"end":8,"cells":24},{"start":8,"end":9,"cells":14},{"start":9,"end":10,"cells":28}],
 "f_dp": [{"phase":"Before","cls":"Q","fate":"Quiescent","pos":1,"mean":0.525,"lo":0.41,"hi":0.64},{"phase":"Before","cls":"S","fate":"Senescent","pos":2,"mean":0.525,"lo":0.42,"hi":0.627},{"phase":"After","cls":"Q","fate":"Quiescent","pos":3.6,"mean":0.93,"lo":0.88,"hi":0.98},{"phase":"After","cls":"S","fate":"Senescent","pos":4.6,"mean":0.104,"lo":0.05,"hi":0.152}],
 "f_bg": [{"phase":"Before","from":0.74,"to":2.52},{"phase":"After","from":3.48,"to":4.79}]
},
"vconcat": [
 {"bounds": "flush", "spacing": 0, "resolve": {"scale": {"color": "independent", "fill": "independent", "strokeDash": "independent"}},
  "hconcat": [
  {"title": {"text": "A  Divergence of Nvj1-mRuby3 Signal During AGR", "offset": 4},
   "width": 390, "height": 243, "view": {"stroke": null},
   "layer": [
    {"data": {"name": "a_floor"}, "mark": {"type": "area", "color": "#ac6a59"},
     "encoding": {"x": {"field": "u", "type": "quantitative", "scale": {"domain": [46, 436], "nice": false, "zero": false}, "axis": null},
      "y": {"field": "top", "type": "quantitative", "scale": {"domain": [75, 318], "nice": false, "zero": false, "reverse": true}, "axis": null},
      "y2": {"field": "bot"}}},
    {"data": {"name": "a_ticks"}, "mark": {"type": "text", "fontSize": 11.5, "color": "#333333", "baseline": "middle"},
     "encoding": {"x": {"field": "u", "type": "quantitative", "axis": null}, "y": {"field": "v", "type": "quantitative", "axis": null}, "text": {"field": "lab"}}},
    {"data": {"name": "a_ticks_r"}, "mark": {"type": "text", "fontSize": 11.5, "color": "#333333", "baseline": "middle", "align": "right"},
     "encoding": {"x": {"field": "u", "type": "quantitative", "axis": null}, "y": {"field": "v", "type": "quantitative", "axis": null}, "text": {"field": "lab"}}},
    {"data": {"name": "a_base"}, "mark": {"type": "line", "color": "#8e8784", "strokeWidth": 3.5},
     "encoding": {"x": {"field": "u", "type": "quantitative", "axis": null}, "y": {"field": "v", "type": "quantitative", "axis": null}, "detail": {"field": "c"}}},
    {"data": {"name": "a_axis"}, "mark": {"type": "line", "color": "#777777", "strokeWidth": 1},
     "encoding": {"x": {"field": "u", "type": "quantitative", "axis": null}, "y": {"field": "v", "type": "quantitative", "axis": null}, "detail": {"field": "c"}}},
    {"data": {"name": "a_grid"}, "mark": {"type": "line", "color": "#000000", "strokeWidth": 3.5, "strokeDash": [14, 12]},
     "encoding": {"x": {"field": "u", "type": "quantitative", "axis": null}, "y": {"field": "v", "type": "quantitative", "axis": null}, "detail": {"field": "c"}}},
    {"data": {"name": "a_curves"}, "transform": [{"filter": "datum.s == 'Q'"}], "mark": {"type": "line", "color": "#b5562a", "strokeWidth": 3.5, "strokeCap": "round", "strokeJoin": "round"},
     "encoding": {"x": {"field": "u", "type": "quantitative", "axis": null}, "y": {"field": "v", "type": "quantitative", "axis": null}, "detail": {"field": "c"}, "order": {"value": null}}},
    {"data": {"name": "a_curves"}, "transform": [{"filter": "datum.s == 'S'"}], "mark": {"type": "line", "color": "#3399c8", "strokeWidth": 3.5, "strokeCap": "round", "strokeJoin": "round"},
     "encoding": {"x": {"field": "u", "type": "quantitative", "axis": null}, "y": {"field": "v", "type": "quantitative", "axis": null}, "detail": {"field": "c"}, "order": {"value": null}}},
    {"data": {"name": "a_pred"}, "mark": {"type": "line", "color": "#3b4cb2", "strokeWidth": 3, "strokeJoin": "round"},
     "encoding": {"x": {"field": "u", "type": "quantitative", "axis": null}, "y": {"field": "v", "type": "quantitative", "axis": null}}},
    {"data": {"name": "a_vlabels"}, "mark": {"type": "text", "fontSize": 13, "fontWeight": "bold", "angle": 270, "baseline": "middle", "color": "#111111"},
     "encoding": {"x": {"field": "u", "type": "quantitative", "axis": null}, "y": {"field": "v", "type": "quantitative", "axis": null}, "text": {"field": "lab"}}},
    {"data": {"values": [{"lab": "AGR 10h"}]}, "mark": {"type": "text", "fontSize": 15, "angle": 12, "baseline": "middle", "color": "#111111"},
     "encoding": {"x": {"datum": 131, "type": "quantitative", "axis": null}, "y": {"datum": 294, "type": "quantitative", "axis": null}, "text": {"field": "lab"}}},
    {"data": {"values": [{"lab": "Time [h]"}]}, "mark": {"type": "text", "fontSize": 13.5, "fontWeight": "bold", "angle": 12, "baseline": "middle", "color": "#111111"},
     "encoding": {"x": {"datum": 125, "type": "quantitative", "axis": null}, "y": {"datum": 307, "type": "quantitative", "axis": null}, "text": {"field": "lab"}}},
    {"data": {"values": [{"lab": "Nvj1-mRuby3 Mean Int [AU]"}]}, "mark": {"type": "text", "fontSize": 13, "fontWeight": "bold", "angle": 316, "baseline": "middle", "color": "#111111"},
     "encoding": {"x": {"datum": 352, "type": "quantitative", "axis": null}, "y": {"datum": 259, "type": "quantitative", "axis": null}, "text": {"field": "lab"}}}
   ]},
  {"width": 67, "height": 263, "data": {"values": [{"k": 1}]}, "mark": {"type": "point", "opacity": 0}, "view": {"stroke": null}},
  {"title": {"text": "B   Prediction of Quiescent/Senescent Cell Fate", "offset": 28},
   "width": 235, "height": 179,
   "layer": [
    {"data": {"name": "agr"}, "mark": {"type": "rect", "color": "#ac6a59"},
     "encoding": {"x": {"field": "start", "type": "quantitative", "scale": {"domain": [0, 10], "nice": false, "zero": false}, "axis": {"values": [0, 2, 4, 6, 8, 10], "tickCount": 20, "format": "d", "title": "Time [h]", "labelPadding": 1, "titlePadding": 17, "zindex": 1, "grid": true, "gridColor": "#e6e6e6", "labelFlush": false}},
      "x2": {"field": "end"},
      "y": {"datum": 0, "type": "quantitative", "scale": {"domain": [0, 100], "nice": false, "zero": false}, "axis": {"values": [0, 20, 40, 60, 80, 100], "tickCount": 20, "format": "d", "title": "Correctly Predicted Cells [%]", "grid": true, "gridColor": "#e6e6e6", "labelPadding": 2, "titlePadding": 4}},
      "y2": {"datum": -14.5}}},
    {"data": {"name": "agr"}, "mark": {"type": "text", "fontSize": 15.5, "color": "#1a1a1a", "baseline": "middle"},
     "encoding": {"x": {"datum": 5, "type": "quantitative"}, "y": {"datum": -10, "type": "quantitative"}, "text": {"field": "label"}}},
    {"data": {"values": [{"s": "WT-MSN2 and WT-RTG1 Predictions"}]}, "mark": {"type": "text", "fontSize": 15.5, "fontWeight": "bold", "color": "#111111", "baseline": "middle"},
     "encoding": {"x": {"datum": 5, "type": "quantitative"}, "y": {"datum": 108.9, "type": "quantitative"}, "text": {"field": "s"}}},
    {"data": {"name": "b_lines"}, "mark": {"type": "line", "strokeWidth": 2.5},
     "encoding": {"x": {"field": "t", "type": "quantitative"}, "y": {"field": "pct", "type": "quantitative"},
      "color": {"field": "series", "type": "nominal", "scale": {"domain": ["Combination of 6 parameters", "Random"], "range": ["#e3201b", "#000000"]}, "legend": {"orient": "none", "legendX": 16, "legendY": 118, "title": null, "symbolType": "stroke", "symbolStrokeWidth": 4, "symbolSize": 380, "labelFontSize": 13, "labelColor": "#1a1a1a", "labelLimit": 300, "rowPadding": 1, "labelOffset": 4}},
      "strokeDash": {"field": "series", "type": "nominal", "scale": {"domain": ["Combination of 6 parameters", "Random"], "range": [[1, 0], [7, 6]]}, "legend": {"orient": "none", "legendX": 16, "legendY": 118, "title": null, "symbolType": "stroke", "symbolStrokeWidth": 4, "symbolSize": 380, "labelFontSize": 13, "labelColor": "#1a1a1a", "labelLimit": 300, "rowPadding": 1, "labelOffset": 4}}}}
   ]}
 ]},
 {"bounds": "flush", "spacing": 0, "resolve": {"scale": {"color": "independent", "fill": "independent", "strokeDash": "independent"}},
  "hconcat": [
  {"title": {"text": "C  Average Cell Fate Probabilities", "offset": 6},
   "width": 231, "height": 173,
   "layer": [
    {"data": {"name": "agr"}, "mark": {"type": "rect", "color": "#ac6a59"},
     "encoding": {"x": {"field": "start", "type": "quantitative", "scale": {"domain": [0, 10], "nice": false, "zero": false}, "axis": {"values": [0, 2, 4, 6, 8, 10], "tickCount": 20, "format": "d", "title": "Time [h]", "labelPadding": 1, "titlePadding": 17, "zindex": 1, "labelFlush": false}},
      "x2": {"field": "end"},
      "y": {"datum": 0, "type": "quantitative", "scale": {"domain": [0, 1], "nice": false, "zero": false}, "axis": {"values": [0, 0.5, 1], "tickCount": 20, "format": "~g", "title": "Probability of Quiescence", "labelPadding": 2, "titlePadding": 0}},
      "y2": {"datum": -0.162}}},
    {"data": {"name": "agr"}, "mark": {"type": "text", "fontSize": 15.5, "color": "#1a1a1a", "baseline": "middle"},
     "encoding": {"x": {"datum": 5, "type": "quantitative"}, "y": {"datum": -0.118, "type": "quantitative"}, "text": {"field": "label"}}},
    {"data": {"values": [{"s": "WT-MSN2 and WT-RTG1\nusing combination of parameters"}]}, "mark": {"type": "text", "fontSize": 15, "fontWeight": "bold", "color": "#111111", "baseline": "top", "lineBreak": "\n", "lineHeight": 13.5},
     "encoding": {"x": {"datum": 5, "type": "quantitative"}, "y": {"datum": 1.214, "type": "quantitative"}, "text": {"field": "s"}}},
    {"data": {"values": [{"level": 0.5}]}, "mark": {"type": "rule", "color": "#000000", "strokeWidth": 2, "strokeDash": [7, 6]},
     "encoding": {"y": {"field": "level", "type": "quantitative"}}},
    {"data": {"name": "c_lines"}, "transform": [{"filter": "datum.fate == 'Quiescent'"}], "mark": {"type": "area", "opacity": 0.35, "color": "#b5562a"},
     "encoding": {"x": {"field": "t", "type": "quantitative"}, "y": {"field": "lo", "type": "quantitative"}, "y2": {"field": "hi"}}},
    {"data": {"name": "c_lines"}, "transform": [{"filter": "datum.fate == 'Senescent'"}], "mark": {"type": "area", "opacity": 0.35, "color": "#3399c8"},
     "encoding": {"x": {"field": "t", "type": "quantitative"}, "y": {"field": "lo", "type": "quantitative"}, "y2": {"field": "hi"}}},
    {"data": {"name": "c_lines"}, "mark": {"type": "line", "strokeWidth": 2},
     "encoding": {"x": {"field": "t", "type": "quantitative"}, "y": {"field": "p", "type": "quantitative"},
      "color": {"field": "fate", "type": "nominal", "scale": {"domain": ["Quiescent", "Senescent"], "range": ["#b5562a", "#3399c8"]}, "legend": null}}},
    {"data": {"values": [{"k": 1}]}, "mark": {"type": "rule", "color": "#b5562a", "strokeWidth": 9, "opacity": 0.4},
     "encoding": {"x": {"datum": 4.94, "type": "quantitative"}, "x2": {"datum": 6.36}, "y": {"datum": 0.688, "type": "quantitative"}}},
    {"data": {"values": [{"k": 1}]}, "mark": {"type": "rule", "color": "#b5562a", "strokeWidth": 4.5},
     "encoding": {"x": {"datum": 4.94, "type": "quantitative"}, "x2": {"datum": 6.36}, "y": {"datum": 0.688, "type": "quantitative"}}},
    {"data": {"values": [{"k": 1}]}, "mark": {"type": "rule", "color": "#3399c8", "strokeWidth": 9, "opacity": 0.4},
     "encoding": {"x": {"datum": 4.94, "type": "quantitative"}, "x2": {"datum": 6.36}, "y": {"datum": 0.601, "type": "quantitative"}}},
    {"data": {"values": [{"k": 1}]}, "mark": {"type": "rule", "color": "#3399c8", "strokeWidth": 4.5},
     "encoding": {"x": {"datum": 4.94, "type": "quantitative"}, "x2": {"datum": 6.36}, "y": {"datum": 0.601, "type": "quantitative"}}},
    {"data": {"values": [{"lab": "Quiescent"}]}, "mark": {"type": "text", "fontSize": 16, "color": "#1a1a1a", "align": "left", "baseline": "middle"},
     "encoding": {"x": {"datum": 6.45, "type": "quantitative"}, "y": {"datum": 0.688, "type": "quantitative"}, "text": {"field": "lab"}}},
    {"data": {"values": [{"lab": "Senescent"}]}, "mark": {"type": "text", "fontSize": 16, "color": "#1a1a1a", "align": "left", "baseline": "middle"},
     "encoding": {"x": {"datum": 6.45, "type": "quantitative"}, "y": {"datum": 0.601, "type": "quantitative"}, "text": {"field": "lab"}}}
   ]},
  {"width": 76, "height": 231, "data": {"values": [{"k": 1}]}, "mark": {"type": "point", "opacity": 0}, "view": {"stroke": null}},
  {"title": {"text": "D  Average Cell Fate Probabilities with Rim15", "offset": 6},
   "width": 236, "height": 180,
   "layer": [
    {"data": {"name": "agr"}, "mark": {"type": "rect", "color": "#ac6a59"},
     "encoding": {"x": {"field": "start", "type": "quantitative", "scale": {"domain": [-1, 10], "nice": false, "zero": false}, "axis": {"values": [-1, 0, 2, 4, 6, 8, 10], "tickCount": 20, "format": "d", "labelExpr": "datum.value == -1 ? '-1' : datum.label", "labelAlign": {"condition": {"test": "datum.value == -1", "value": "left"}, "value": "center"}, "title": "Time [h]", "labelPadding": 1, "titlePadding": 13, "zindex": 1, "labelFlush": false}},
      "x2": {"field": "end"},
      "y": {"datum": 0, "type": "quantitative", "scale": {"domain": [0, 1], "nice": false, "zero": false}, "axis": {"values": [0, 0.5, 1], "tickCount": 20, "format": "~g", "title": "Probability of Quiescence", "labelPadding": 2, "titlePadding": 3}},
      "y2": {"datum": -0.139}}},
    {"data": {"name": "preagr"}, "mark": {"type": "rect", "color": "#93a98b"},
     "encoding": {"x": {"field": "start", "type": "quantitative"}, "x2": {"field": "end"}, "y": {"datum": 0, "type": "quantitative"}, "y2": {"datum": -0.139}}},
    {"data": {"name": "agr"}, "mark": {"type": "text", "fontSize": 15.5, "color": "#1a1a1a", "baseline": "middle"},
     "encoding": {"x": {"datum": 4.7, "type": "quantitative"}, "y": {"datum": -0.1, "type": "quantitative"}, "text": {"field": "label"}}},
    {"data": {"values": [{"s": "WT-RIM15\nusing Rim15 mean intensity"}]}, "mark": {"type": "text", "fontSize": 15, "fontWeight": "bold", "color": "#111111", "baseline": "top", "lineBreak": "\n", "lineHeight": 13.5},
     "encoding": {"x": {"datum": 4.5, "type": "quantitative"}, "y": {"datum": 1.211, "type": "quantitative"}, "text": {"field": "s"}}},
    {"data": {"values": [{"level": 0.5}]}, "mark": {"type": "rule", "color": "#000000", "strokeWidth": 2, "strokeDash": [7, 6]},
     "encoding": {"y": {"field": "level", "type": "quantitative"}}},
    {"data": {"values": [{"at": 0}]}, "mark": {"type": "rule", "color": "#000000", "strokeWidth": 2, "strokeDash": [7, 6]},
     "encoding": {"x": {"field": "at", "type": "quantitative"}, "y": {"datum": -0.139, "type": "quantitative"}, "y2": {"datum": 1}}},
    {"data": {"name": "d_lines"}, "transform": [{"filter": "datum.fate == 'Quiescent'"}], "mark": {"type": "area", "opacity": 0.35, "color": "#b5562a"},
     "encoding": {"x": {"field": "t", "type": "quantitative"}, "y": {"field": "lo", "type": "quantitative"}, "y2": {"field": "hi"}}},
    {"data": {"name": "d_lines"}, "transform": [{"filter": "datum.fate == 'Senescent'"}], "mark": {"type": "area", "opacity": 0.35, "color": "#3399c8"},
     "encoding": {"x": {"field": "t", "type": "quantitative"}, "y": {"field": "lo", "type": "quantitative"}, "y2": {"field": "hi"}}},
    {"data": {"name": "d_lines"}, "mark": {"type": "line", "strokeWidth": 2},
     "encoding": {"x": {"field": "t", "type": "quantitative"}, "y": {"field": "p", "type": "quantitative"},
      "color": {"field": "fate", "type": "nominal", "scale": {"domain": ["Quiescent", "Senescent"], "range": ["#b5562a", "#3399c8"]}, "legend": null}}}
   ]}
 ]},
 {"bounds": "flush", "spacing": 0, "resolve": {"scale": {"color": "independent", "fill": "independent", "strokeDash": "independent"}},
  "hconcat": [
  {"title": {"text": "E  Decision Point Example Cells", "offset": 12},
   "width": 183, "height": 139,
   "layer": [
    {"data": {"name": "agr"}, "mark": {"type": "rect", "color": "#ac6a59"},
     "encoding": {"x": {"field": "start", "type": "quantitative", "scale": {"domain": [0, 10], "nice": false, "zero": false}, "axis": {"values": [0, 2, 4, 6, 8, 10], "tickCount": 20, "format": "d", "title": "Time [h]", "labelPadding": 1, "titlePadding": 12, "zindex": 1, "labelFlush": false}},
      "x2": {"field": "end"},
      "y": {"datum": 0, "type": "quantitative", "scale": {"domain": [0, 1], "nice": false, "zero": false}, "axis": {"values": [0, 0.5, 1], "tickCount": 20, "format": "~g", "title": "Probability of Quiescence", "labelPadding": 2, "titlePadding": 1}},
      "y2": {"datum": -0.173}}},
    {"data": {"name": "agr"}, "mark": {"type": "text", "fontSize": 15.5, "color": "#1a1a1a", "baseline": "middle"},
     "encoding": {"x": {"datum": 5, "type": "quantitative"}, "y": {"datum": -0.13, "type": "quantitative"}, "text": {"field": "label"}}},
    {"data": {"values": [{"s": "Example Quiescent Cell DP"}]}, "mark": {"type": "text", "fontSize": 15.5, "fontWeight": "bold", "color": "#111111", "baseline": "middle"},
     "encoding": {"x": {"datum": 5, "type": "quantitative"}, "y": {"datum": 1.13, "type": "quantitative"}, "text": {"field": "s"}}},
    {"data": {"values": [{"level": 0.5}]}, "mark": {"type": "rule", "color": "#000000", "strokeWidth": 1.5, "strokeDash": [5, 4]},
     "encoding": {"y": {"field": "level", "type": "quantitative"}}},
    {"data": {"values": [{"dp": 3.05}]}, "mark": {"type": "rule", "color": "#2b4fc0", "strokeWidth": 1.5, "strokeDash": [5, 4]},
     "encoding": {"x": {"field": "dp", "type": "quantitative"}, "y": {"datum": 0, "type": "quantitative"}, "y2": {"datum": 1}}},
    {"data": {"name": "e_q"}, "mark": {"type": "line", "color": "#b5562a", "strokeWidth": 1.5, "point": {"filled": true, "size": 14, "color": "#b5562a"}},
     "encoding": {"x": {"field": "t", "type": "quantitative"}, "y": {"field": "p", "type": "quantitative"}}},
    {"data": {"values": [{"lab": "DP"}]}, "mark": {"type": "text", "fontSize": 18, "fontWeight": "bold", "color": "#2e3192", "baseline": "middle"},
     "encoding": {"x": {"datum": 2.1, "type": "quantitative"}, "y": {"datum": 0.91, "type": "quantitative"}, "text": {"field": "lab"}}},
    {"data": {"values": [{"note": "After DP, all predictions\nare correct."}]}, "mark": {"type": "text", "fontSize": 15, "color": "#1a1a1a", "align": "left", "baseline": "top", "lineBreak": "\n", "lineHeight": 19},
     "encoding": {"x": {"datum": 0.87, "type": "quantitative"}, "y": {"datum": 0.26, "type": "quantitative"}, "text": {"field": "note"}}}
   ]},
  {"width": 68, "height": 186, "data": {"values": [{"k": 1}]}, "mark": {"type": "point", "opacity": 0}, "view": {"stroke": null}},
  {"width": 182, "height": 141,
   "layer": [
    {"data": {"name": "agr"}, "mark": {"type": "rect", "color": "#ac6a59"},
     "encoding": {"x": {"field": "start", "type": "quantitative", "scale": {"domain": [0, 10], "nice": false, "zero": false}, "axis": {"values": [0, 2, 4, 6, 8, 10], "tickCount": 20, "format": "d", "title": "Time [h]", "labelPadding": 1, "titlePadding": 12, "zindex": 1, "labelFlush": false}},
      "x2": {"field": "end"},
      "y": {"datum": 0, "type": "quantitative", "scale": {"domain": [0, 1], "nice": false, "zero": false}, "axis": {"values": [0, 0.5, 1], "tickCount": 20, "format": "~g", "title": "Probability of Quiescence", "labelPadding": 2, "titlePadding": 3}},
      "y2": {"datum": -0.177}}},
    {"data": {"name": "agr"}, "mark": {"type": "text", "fontSize": 15.5, "color": "#1a1a1a", "baseline": "middle"},
     "encoding": {"x": {"datum": 5, "type": "quantitative"}, "y": {"datum": -0.13, "type": "quantitative"}, "text": {"field": "label"}}},
    {"data": {"values": [{"s": "Example Senescent Cell DP"}]}, "mark": {"type": "text", "fontSize": 15.5, "fontWeight": "bold", "color": "#111111", "baseline": "middle"},
     "encoding": {"x": {"datum": 4.7, "type": "quantitative"}, "y": {"datum": 1.128, "type": "quantitative"}, "text": {"field": "s"}}},
    {"data": {"values": [{"level": 0.5}]}, "mark": {"type": "rule", "color": "#000000", "strokeWidth": 1.5, "strokeDash": [5, 4]},
     "encoding": {"y": {"field": "level", "type": "quantitative"}}},
    {"data": {"values": [{"dp": 2.17}]}, "mark": {"type": "rule", "color": "#2b4fc0", "strokeWidth": 2, "strokeDash": [5, 4]},
     "encoding": {"x": {"field": "dp", "type": "quantitative"}, "y": {"datum": 0, "type": "quantitative"}, "y2": {"datum": 1}}},
    {"data": {"name": "e_s"}, "mark": {"type": "line", "color": "#3399c8", "strokeWidth": 1.5, "point": {"filled": true, "size": 14, "color": "#3399c8"}},
     "encoding": {"x": {"field": "t", "type": "quantitative"}, "y": {"field": "p", "type": "quantitative"}}},
    {"data": {"values": [{"lab": "DP"}]}, "mark": {"type": "text", "fontSize": 18, "fontWeight": "bold", "color": "#2e3192", "baseline": "middle"},
     "encoding": {"x": {"datum": 1.3, "type": "quantitative"}, "y": {"datum": 0.91, "type": "quantitative"}, "text": {"field": "lab"}}},
    {"data": {"values": [{"note": "After DP, all predictions\nare correct."}]}, "mark": {"type": "text", "fontSize": 15, "color": "#1a1a1a", "align": "left", "baseline": "top", "lineBreak": "\n", "lineHeight": 19},
     "encoding": {"x": {"datum": 0.33, "type": "quantitative"}, "y": {"datum": 0.865, "type": "quantitative"}, "text": {"field": "note"}}}
   ]}
 ]},
 {"bounds": "flush", "spacing": 0, "resolve": {"scale": {"color": "independent", "fill": "independent", "strokeDash": "independent"}},
  "hconcat": [
  {"title": {"text": "F  Decision Point", "offset": 11},
   "width": 245, "height": 188,
   "layer": [
    {"data": {"name": "agr"}, "mark": {"type": "rect", "color": "#ac6a59"},
     "encoding": {"x": {"field": "start", "type": "quantitative", "scale": {"domain": [0, 10], "nice": false, "zero": false}, "axis": {"values": [0, 2, 4, 6, 8, 10], "tickCount": 20, "format": "d", "title": "Time [h]", "labelPadding": 1, "titlePadding": 10, "zindex": 1, "labelFlush": false}},
      "x2": {"field": "end"},
      "y": {"datum": 0, "type": "quantitative", "scale": {"domain": [0, 80], "nice": false, "zero": false}, "axis": {"values": [0, 20, 40, 60, 80], "tickCount": 20, "format": "d", "title": "Number of Cells", "labelPadding": 2, "titlePadding": 4}},
      "y2": {"datum": -10.2}}},
    {"data": {"name": "agr"}, "mark": {"type": "text", "fontSize": 15.5, "color": "#1a1a1a", "baseline": "middle"},
     "encoding": {"x": {"datum": 5, "type": "quantitative"}, "y": {"datum": -6.3, "type": "quantitative"}, "text": {"field": "label"}}},
    {"data": {"values": [{"s": "WT-MSN2 and WT-RTG1 Decision Point"}]}, "mark": {"type": "text", "fontSize": 15.5, "fontWeight": "bold", "color": "#111111", "baseline": "middle"},
     "encoding": {"x": {"datum": 5, "type": "quantitative"}, "y": {"datum": 86.8, "type": "quantitative"}, "text": {"field": "s"}}},
    {"data": {"name": "f_hist"}, "mark": {"type": "rect", "color": "#a77bb6", "stroke": "#555555", "strokeWidth": 0.7},
     "encoding": {"x": {"field": "start", "type": "quantitative"}, "x2": {"field": "end"}, "y": {"field": "cells", "type": "quantitative"}, "y2": {"datum": 0}}},
    {"data": {"values": [{"note": "Mean=3.6h\nSTD=2.9h"}]}, "mark": {"type": "text", "fontSize": 15, "color": "#1a1a1a", "align": "left", "baseline": "top", "lineBreak": "\n", "lineHeight": 19},
     "encoding": {"x": {"datum": 6.3, "type": "quantitative"}, "y": {"datum": 77, "type": "quantitative"}, "text": {"field": "note"}}}
   ]},
  {"width": 105, "height": 1, "data": {"values": [{"k": 1}]}, "mark": {"type": "point", "opacity": 0}, "view": {"stroke": null}},
  {"width": 109, "height": 197, "view": {"stroke": null},
   "layer": [
    {"data": {"name": "f_bg"}, "mark": {"type": "rect"},
     "encoding": {"x": {"field": "from", "type": "quantitative", "scale": {"domain": [0.74, 4.79], "nice": false, "zero": false}, "axis": {"values": [1, 2, 3.6, 4.6], "tickCount": 20, "labelExpr": "(datum.value == 1 || datum.value == 3.6) ? 'Q' : 'S'", "title": null, "labelPadding": 3, "labelFontSize": 13}},
      "x2": {"field": "to"},
      "y": {"datum": 0, "type": "quantitative", "scale": {"domain": [0, 1.059], "nice": false, "zero": false}, "axis": {"values": [0, 0.5, 1], "tickCount": 20, "format": "~g", "title": "Probability of Quiescence", "labelPadding": 2, "titlePadding": 3}},
      "y2": {"datum": 1},
      "fill": {"field": "phase", "type": "nominal", "scale": {"domain": ["Before", "After"], "range": ["#fdd9b1", "#e2d4e9"]}, "legend": null}}},
    {"data": {"values": [{"k": 1}]}, "mark": {"type": "rect", "fill": "transparent", "stroke": "#a3a3a3", "strokeWidth": 1},
     "encoding": {"x": {"datum": 0.74, "type": "quantitative"}, "x2": {"datum": 4.79}, "y": {"datum": 0, "type": "quantitative"}, "y2": {"datum": 1}}},
    {"data": {"name": "f_dp"}, "mark": {"type": "errorbar", "ticks": true, "thickness": 2, "size": 10},
     "encoding": {"x": {"field": "pos", "type": "quantitative", "title": null}, "y": {"field": "lo", "type": "quantitative", "title": "Probability of Quiescence"}, "y2": {"field": "hi"},
      "color": {"field": "fate", "type": "nominal", "scale": {"domain": ["Quiescent", "Senescent"], "range": ["#b5562a", "#3399c8"]}, "legend": null}}},
    {"data": {"name": "f_dp"}, "mark": {"type": "point", "shape": "square", "filled": true, "size": 110, "opacity": 1},
     "encoding": {"x": {"field": "pos", "type": "quantitative", "title": null}, "y": {"field": "mean", "type": "quantitative", "title": "Probability of Quiescence"},
      "color": {"field": "fate", "type": "nominal", "scale": {"domain": ["Quiescent", "Senescent"], "range": ["#b5562a", "#3399c8"]}, "legend": null}}},
    {"data": {"values": [{"w": "Before"}]}, "mark": {"type": "text", "fontSize": 16, "color": "#f7941d", "align": "right", "baseline": "middle"},
     "encoding": {"x": {"datum": 2.37, "type": "quantitative"}, "y": {"datum": 1.054, "type": "quantitative"}, "text": {"field": "w"}}},
    {"data": {"values": [{"w": "/"}]}, "mark": {"type": "text", "fontSize": 16, "color": "#333333", "align": "left", "baseline": "middle"},
     "encoding": {"x": {"datum": 2.37, "type": "quantitative"}, "y": {"datum": 1.054, "type": "quantitative"}, "text": {"field": "w"}}},
    {"data": {"values": [{"w": "After"}]}, "mark": {"type": "text", "fontSize": 16, "color": "#b48bc9", "align": "left", "baseline": "middle"},
     "encoding": {"x": {"datum": 2.52, "type": "quantitative"}, "y": {"datum": 1.054, "type": "quantitative"}, "text": {"field": "w"}}},
    {"data": {"values": [{"w": "DP"}]}, "mark": {"type": "text", "fontSize": 16, "color": "#1a1a1a", "align": "left", "baseline": "middle"},
     "encoding": {"x": {"datum": 3.96, "type": "quantitative"}, "y": {"datum": 1.054, "type": "quantitative"}, "text": {"field": "w"}}}
   ]}
 ]}
]
}
